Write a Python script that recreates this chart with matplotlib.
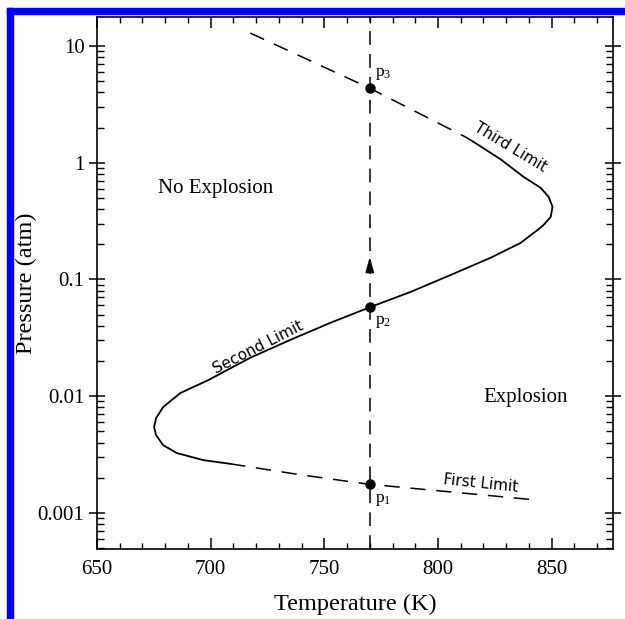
import numpy as np
import matplotlib.pyplot as plt
import matplotlib.patches as mpatches

#======== data ========

# solid S-shaped curve (upper third limit part -> second limit -> lower nose)
solid_T = [815.6, 827.5, 837.7, 845.2, 848.7, 850.4, 849.6, 846.5, 843.8, 836.3,
           823.1, 805.5, 787.9, 770.3, 752.6, 735.0, 717.4, 698.9, 686.6, 679.1,
           676.0, 675.1, 676.0, 679.1, 685.2, 696.7, 708.6]
solid_P = [1.51, 1.07, 0.755, 0.608, 0.509, 0.418, 0.343, 0.293, 0.265, 0.205,
           0.153, 0.109, 0.078, 0.058, 0.0424, 0.0303, 0.0213, 0.0137, 0.01061, 0.00805,
           0.00648, 0.00542, 0.00463, 0.0038, 0.00325, 0.00283, 0.00263]

# dashed first limit
first_T = [708.6, 739.4, 769.4, 843.0]
first_P = [0.00263, 0.00212, 0.00176, 0.00129]

# dashed third limit
third_T = [717.4, 769.8, 812.1, 815.6]
third_P = [12.9, 4.36, 1.66, 1.51]

# the isotherm and the three marked points
T_line = 770
pts_T = [770, 770, 770]
pts_P = [0.00176, 0.058, 4.4]
pts_lab = ["p$_1$", "p$_2$", "p$_3$"]
lab_P = [0.00128, 0.0435, 5.7]

x_ticks = [650, 700, 750, 800, 850]
y_ticks = [0.001, 0.01, 0.1, 1, 10]
y_labels = ["0.001", "0.01", "0.1", "1", "10"]

#======== figure ========

plt.rcParams['font.family'] = ['Liberation Serif', 'DejaVu Serif']
plt.rcParams['mathtext.fontset'] = 'custom'
plt.rcParams['mathtext.rm'] = 'Liberation Serif'
plt.rcParams['mathtext.it'] = 'Liberation Serif'

fig = plt.figure(figsize=(6.25, 6.19), dpi=100)
ax = fig.add_axes([97/625, 1-549/619, 516/625, 532/619])

# blue frame on top and left
W, H = 625, 619
fig.patches.append(mpatches.Rectangle((7/W, 1-14/H), 1, 6/H, color='#0000ff',
                                      transform=fig.transFigure, zorder=5))
fig.patches.append(mpatches.Rectangle((7/W, 0), 6/W, 1-8/H, color='#0000ff',
                                      transform=fig.transFigure, zorder=5))

ax.set_yscale('log')
ax.set_xlim(650, 877)
ax.set_ylim(0.00049, 17.7)

ax.plot(solid_T, solid_P, color='k', lw=1.3, solid_joinstyle='round')
ax.plot(first_T, first_P, color='k', lw=1.1, dashes=(10, 7))
ax.plot(third_T, third_P, color='k', lw=1.1, dashes=(10, 7))
ax.axvline(T_line, color='k', lw=1.1, dashes=(9, 6))

ax.plot(pts_T, pts_P, 'o', color='k', ms=6.5)
for t, p, s in zip(pts_T, lab_P, pts_lab):
    ax.text(t + 2.3, p, s, fontsize=12.5, va='center', ha='left')

# arrow on the isotherm
ax.annotate("", xy=(770, 0.165), xytext=(770, 0.12),
            arrowprops=dict(arrowstyle='-|>,head_width=0.18,head_length=0.65',
                            color='k', lw=1.2, mutation_scale=14))

ax.text(702, 0.6, "No Explosion", fontsize=15, ha='center', va='center')
ax.text(838.5, 0.0098, "Explosion", fontsize=15, ha='center', va='center')

sans = ['DejaVu Sans']
ax.text(721, 0.0262, "Second Limit", fontsize=11, family=sans, rotation=27,
        ha='center', va='center', rotation_mode='anchor')
ax.text(832, 1.36, "Third Limit", fontsize=11, family=sans, rotation=-31,
        ha='center', va='center', rotation_mode='anchor')
ax.text(818.7, 0.00178, "First Limit", fontsize=11, family=sans, rotation=-6,
        ha='center', va='center', rotation_mode='anchor')

ax.set_xticks(x_ticks)
ax.set_xticks(np.arange(650, 880, 10), minor=True)
ax.set_yticks(y_ticks)
ax.set_yticklabels(y_labels)
ax.tick_params(axis='x', which='major', direction='in', length=8, width=1.1,
               top=True, labelsize=15, pad=8)
ax.tick_params(axis='x', which='minor', direction='in', length=4, width=1, top=True)
ax.tick_params(axis='y', which='major', direction='inout', length=12, width=1.1,
               right=True, labelsize=15, pad=3)
ax.tick_params(axis='y', which='minor', direction='in', length=5, width=1, right=True)
for s in ax.spines.values():
    s.set_linewidth(1.2)

ax.set_xlabel("Temperature (K)", fontsize=17.5)
ax.set_ylabel("Pressure (atm)", fontsize=17.5)
ax.xaxis.set_label_coords(0.5, -0.084)
ax.yaxis.set_label_coords(-0.116, 0.5)

fig.savefig("out.png", dpi=100)
